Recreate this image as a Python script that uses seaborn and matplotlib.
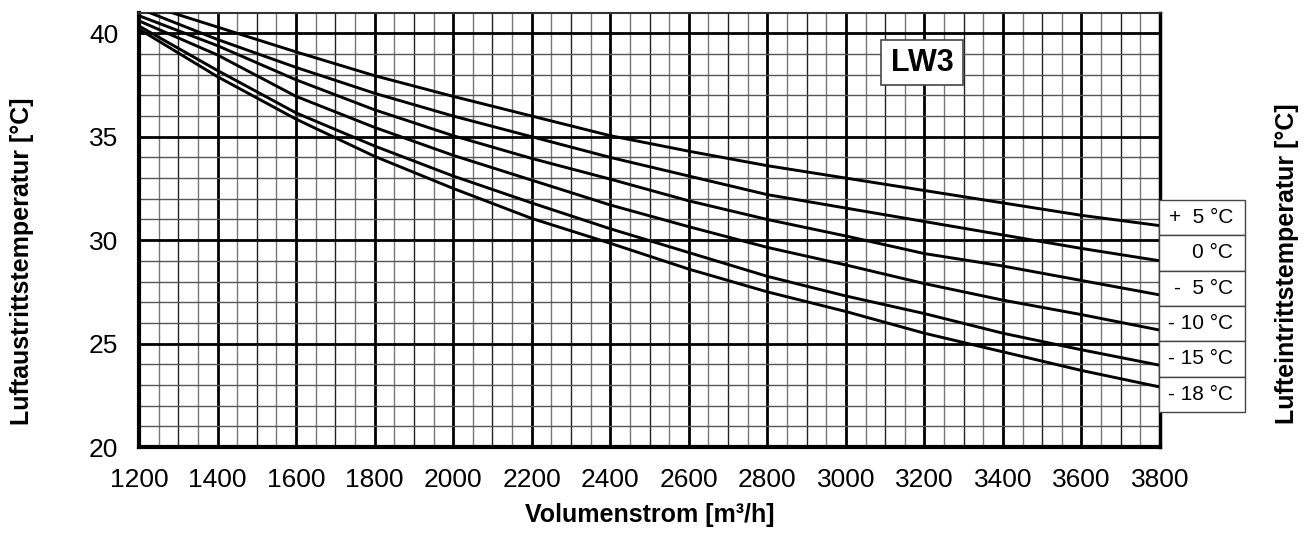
import matplotlib
matplotlib.use("Agg")
import matplotlib.pyplot as plt
from matplotlib.patches import Rectangle
from matplotlib.ticker import MultipleLocator
import seaborn as sns
import pandas as pd
import numpy as np

# Volumenstrom [m3/h]
volumenstrom = [1200, 1400, 1600, 1800, 2000, 2200, 2400, 2600, 2800, 3000, 3200, 3400, 3600, 3800]

# Luftaustrittstemperatur per Lufteintrittstemperatur
t_plus5 = [41.5, 40.3, 39.1, 37.95, 36.95, 36.0, 35.05, 34.3, 33.6, 33.0, 32.4, 31.8, 31.2, 30.7]
t_0 = [41.2, 39.7, 38.35, 37.1, 36.0, 35.0, 34.0, 33.1, 32.2, 31.55, 30.9, 30.25, 29.6, 29.0]
t_minus5 = [40.85, 39.4, 37.75, 36.3, 35.05, 33.95, 32.95, 31.9, 31.0, 30.2, 29.35, 28.75, 28.05, 27.35]
t_minus10 = [40.6, 38.95, 36.95, 35.45, 34.1, 32.9, 31.7, 30.65, 29.65, 28.8, 27.9, 27.1, 26.4, 25.65]
t_minus15 = [40.35, 38.2, 36.15, 34.55, 33.1, 31.8, 30.55, 29.4, 28.25, 27.3, 26.45, 25.5, 24.7, 23.95]
t_minus18 = [40.2, 37.9, 35.85, 34.05, 32.5, 31.05, 29.85, 28.6, 27.5, 26.55, 25.5, 24.6, 23.7, 22.9]

kurven = ["+  5 °C", "0 °C", "-  5 °C", "- 10 °C", "- 15 °C", "- 18 °C"]
werte = [t_plus5, t_0, t_minus5, t_minus10, t_minus15, t_minus18]

df = pd.concat([pd.DataFrame({"x": volumenstrom, "y": w, "kurve": k}) for k, w in zip(kurven, werte)])

sns.set_theme(style="white")
plt.rcParams['font.family'] = ['Liberation Sans', 'DejaVu Sans']
plt.rcParams['text.color'] = 'black'
plt.rcParams['xtick.color'] = 'black'
plt.rcParams['ytick.color'] = 'black'
plt.rcParams['axes.labelcolor'] = 'black'

fig = plt.figure(figsize=(13.13, 5.44), dpi=100)
ax = fig.add_axes([0.1059, 0.1783, 0.7776, 0.7985])

# grid
for xv in np.arange(1250, 3800, 50):
    if xv % 200 == 0:
        ax.axvline(xv, color="black", lw=2.0, zorder=1)
    elif xv % 100 == 0:
        ax.axvline(xv, color="#222222", lw=1.0, zorder=1)
    else:
        ax.axvline(xv, color="#777777", lw=1.0, zorder=1)
for yv in np.arange(21, 41, 1):
    if yv % 5 == 0:
        ax.axhline(yv, color="black", lw=2.0, zorder=1)
    else:
        ax.axhline(yv, color="#555555", lw=1.0, zorder=1)

sns.lineplot(data=df, x="x", y="y", hue="kurve", palette=["black"] * 6,
             legend=False, linewidth=2.1, ax=ax, zorder=3)

ax.set_xlim(1200, 3800)
ax.set_ylim(20, 41)
ax.xaxis.set_major_locator(MultipleLocator(200))
ax.yaxis.set_major_locator(MultipleLocator(5))
ax.tick_params(axis="both", direction="out", length=5, width=2.5, labelsize=19,
               color="black", labelcolor="black")
ax.tick_params(axis="x", pad=10)
ax.tick_params(axis="y", pad=10)
ax.set_xlabel("")
ax.set_ylabel("")

for s in ["left", "bottom"]:
    ax.spines[s].set_linewidth(3)
    ax.spines[s].set_color("black")
ax.spines["right"].set_linewidth(2.5)
ax.spines["right"].set_color("black")
ax.spines["top"].set_linewidth(1.5)
ax.spines["top"].set_color("#333333")

# LW3 box
ax.add_patch(Rectangle((0.7267, 0.8333), 0.0803, 0.1037, transform=ax.transAxes,
                       facecolor="white", edgecolor="#444444", lw=1.2, zorder=5))
ax.text(0.7668, 0.885, "LW3", transform=ax.transAxes, ha="center", va="center",
        fontsize=22, fontweight="bold", color="black", zorder=6)

# Legend boxes on the right
box_h = 0.0813
for i, k in enumerate(kurven):
    y0 = 0.5686 - (i + 1) * box_h
    ax.add_patch(Rectangle((0.999, y0), 0.0843, box_h, transform=ax.transAxes,
                           facecolor="white", edgecolor="#444444", lw=1.0,
                           clip_on=False, zorder=5))
    ax.text(1.0716, y0 + box_h / 2, k, transform=ax.transAxes, ha="right", va="center",
            fontsize=15, color="black", clip_on=False, zorder=6)

fig.text(0.017, 0.52, "Luftaustrittstemperatur [°C]", rotation=90, ha="center", va="center",
         fontsize=18, fontweight="bold", color="black")
fig.text(0.980, 0.516, "Lufteintrittstemperatur [°C]", rotation=90, ha="center", va="center",
         fontsize=18, fontweight="bold", color="black")
fig.text(0.4947, 0.053, "Volumenstrom [m³/h]", ha="center", va="center",
         fontsize=18, fontweight="bold", color="black")

fig.savefig("out.png", dpi=100)
